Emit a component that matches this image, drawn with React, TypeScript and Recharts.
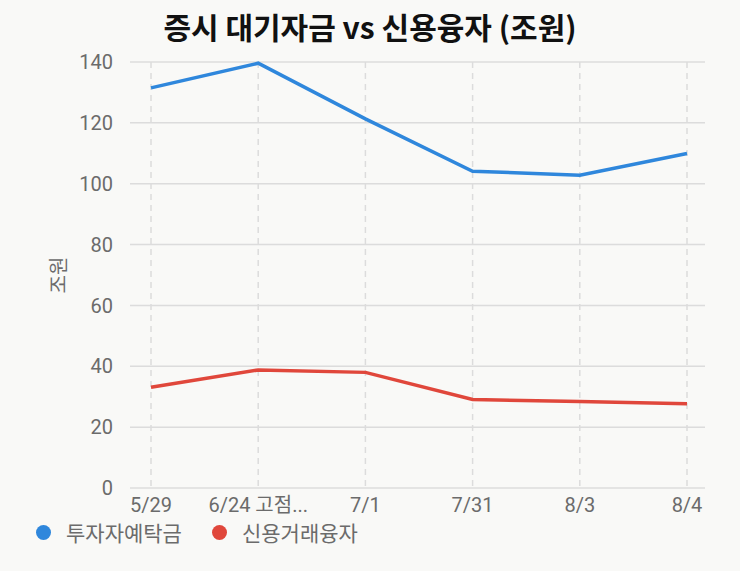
import { LineChart, Line, XAxis, YAxis, CartesianGrid, Legend } from 'recharts';

const categories = ['5/29', '6/24 고점...', '7/1', '7/31', '8/3', '8/4'];
const depositValues = [131.5, 139.6, 121.3, 104.1, 102.8, 109.9];
const creditValues = [33.1, 38.8, 38.0, 29.1, 28.4, 27.7];
const yTicks = [0, 20, 40, 60, 80, 100, 120, 140];

const SERIES = [
  { key: 'deposit', name: '투자자예탁금', color: '#2F87DC' },
  { key: 'credit', name: '신용거래융자', color: '#E0473B' },
];

const rows = categories.map((label, i) => ({
  label,
  deposit: depositValues[i],
  credit: creditValues[i],
}));

const FONT = 'Roboto, "Noto Sans CJK KR", sans-serif';
const TEXT_GREY = '#6b6b6b';
const GRID = '#dcdcdc';

// keep legend in series order (recharts sorts the payload by default)
function LegendContent({ payload }: any) {
  const items = [...(payload ?? [])].sort(
    (a: any, b: any) =>
      SERIES.findIndex((s) => s.name === a.value) -
      SERIES.findIndex((s) => s.name === b.value),
  );
  return (
    <div style={{ display: 'flex', alignItems: 'center', paddingLeft: 16 }}>
      {items.map((entry: any) => (
        <div
          key={entry.value}
          style={{ display: 'flex', alignItems: 'center', marginRight: 30 }}
        >
          <span
            style={{
              width: 15,
              height: 15,
              borderRadius: '50%',
              backgroundColor: entry.color,
              marginRight: 15,
              flexShrink: 0,
            }}
          />
          <span
            style={{
              fontFamily: '"Noto Sans CJK KR", sans-serif',
              fontSize: 21,
              color: TEXT_GREY,
              lineHeight: '24px',
            }}
          >
            {entry.value}
          </span>
        </div>
      ))}
    </div>
  );
}

function YLabel({ viewBox }: any) {
  const cx = 57;
  const cy = viewBox.y + viewBox.height / 2;
  return (
    <text
      x={cx}
      y={cy}
      transform={`rotate(-90, ${cx}, ${cy})`}
      textAnchor="middle"
      dominantBaseline="central"
      fill={TEXT_GREY}
      fontSize={20}
      fontFamily='"Noto Sans CJK KR", sans-serif'
    >
      조원
    </text>
  );
}

export default function App() {
  return (
    <div
      style={{
        position: 'absolute',
        left: 0,
        top: 0,
        width: 740,
        height: 571,
        background: '#f9f9f7',
        overflow: 'hidden',
      }}
    >
      <div
        style={{
          position: 'absolute',
          top: 11,
          left: 0,
          width: 740,
          textAlign: 'center',
          fontFamily: '"Noto Sans CJK KR", sans-serif',
          fontWeight: 700,
          fontSize: 30,
          lineHeight: '30px',
          color: '#111',
        }}
      >
        증시 대기자금 vs 신용융자 (조원)
      </div>
      <LineChart
        width={740}
        height={571}
        data={rows}
        margin={{ top: 62, right: 35, left: 20, bottom: 27 }}
      >
        <CartesianGrid vertical={false} stroke={GRID} strokeWidth={1.5} />
        <CartesianGrid
          horizontal={false}
          syncWithTicks
          stroke={GRID}
          strokeDasharray="6 5"
          strokeWidth={1.5}
        />
        <XAxis
          dataKey="label"
          padding={{ left: 21, right: 18 }}
          axisLine={false}
          tickLine={false}
          tickMargin={4}
          height={32}
          interval={0}
          tick={{ fontSize: 20, fill: TEXT_GREY, fontFamily: FONT }}
        />
        <YAxis
          domain={[0, 140]}
          ticks={yTicks}
          width={110}
          axisLine={false}
          tickLine={false}
          tickMargin={11}
          tick={{ fontSize: 20, fill: TEXT_GREY, fontFamily: FONT }}
          label={{ content: <YLabel /> }}
        />
        <Legend
          verticalAlign="bottom"
          align="left"
          content={<LegendContent />}
        />
        {SERIES.map((s) => (
          <Line
            key={s.key}
            type="linear"
            dataKey={s.key}
            name={s.name}
            stroke={s.color}
            strokeWidth={3.5}
            dot={false}
            isAnimationActive={false}
          />
        ))}
      </LineChart>
    </div>
  );
}
